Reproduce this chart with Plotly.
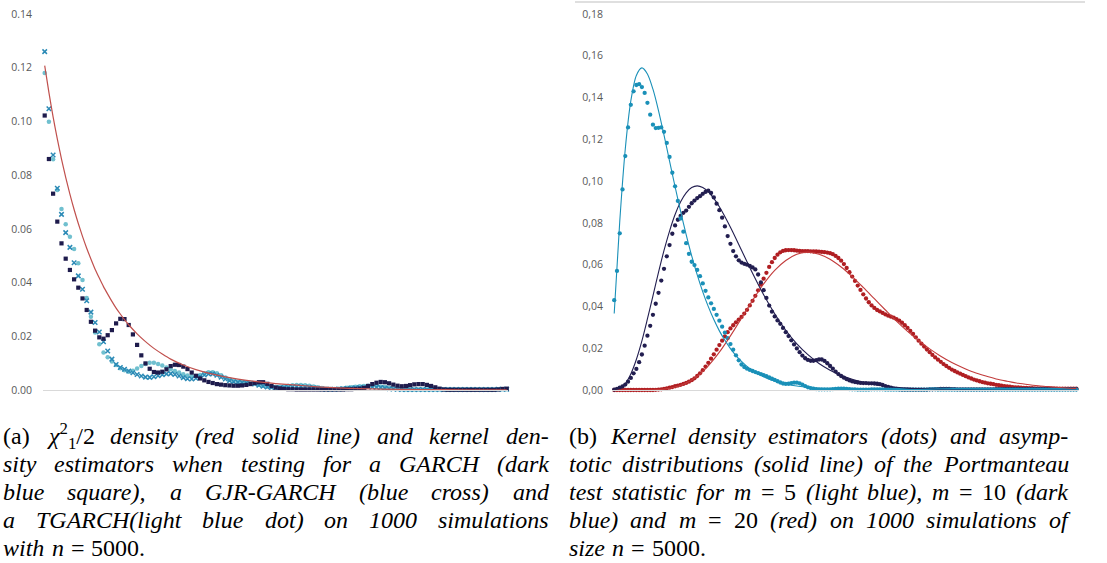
import plotly.graph_objects as go

W, H = 1107, 563

# ---------------- left panel data (index on a regular grid) ----------------
left_idx = list(range(111))
garch_sq = [0.1022, 0.0860, 0.0731, 0.0627, 0.0546, 0.0489, 0.0447, 0.0412, 0.0381, 0.0341,
            0.0298, 0.0254, 0.0221, 0.0196, 0.0191, 0.0204, 0.0223, 0.0248, 0.0265, 0.0264,
            0.0242, 0.0207, 0.0168, 0.0129, 0.0099, 0.0079, 0.0067, 0.0065, 0.0068, 0.0077,
            0.0089, 0.0094, 0.0093, 0.0087, 0.0078, 0.0065, 0.0053, 0.0043, 0.0036, 0.0030,
            0.0026, 0.0022, 0.0020, 0.0018, 0.0017, 0.0016, 0.0016, 0.0017, 0.0019, 0.0022,
            0.0026, 0.0029, 0.0029, 0.0023, 0.0015, 0.0009, 0.0006, 0.0004, 0.0003, 0.0003,
            0.0002, 0.0002, 0.0002, 0.0002, 0.0002, 0.0002, 0.0002, 0.0002, 0.0002, 0.0002,
            0.0002, 0.0002, 0.0003, 0.0003, 0.0004, 0.0005, 0.0008, 0.0015, 0.0022, 0.0027,
            0.0030, 0.0029, 0.0025, 0.0020, 0.0016, 0.0014, 0.0015, 0.0018, 0.0021, 0.0022,
            0.0022, 0.0019, 0.0015, 0.0010, 0.0005, 0.0002, 0.0001, 0.0001, 0.0001, 0.0001,
            0.0001, 0.0001, 0.0001, 0.0001, 0.0001, 0.0001, 0.0001, 0.0001, 0.0002, 0.0004,
            0.0005]
gjr_cross = [0.1260, 0.1047, 0.0875, 0.0751, 0.0654, 0.0586, 0.0531, 0.0474, 0.0425, 0.0375,
             0.0332, 0.0290, 0.0251, 0.0216, 0.0180, 0.0145, 0.0115, 0.0095, 0.0084, 0.0077,
             0.0071, 0.0064, 0.0058, 0.0052, 0.0048, 0.0047, 0.0049, 0.0053, 0.0057, 0.0060,
             0.0061, 0.0058, 0.0052, 0.0046, 0.0042, 0.0041, 0.0044, 0.0050, 0.0056, 0.0060,
             0.0060, 0.0055, 0.0048, 0.0041, 0.0035, 0.0031, 0.0029, 0.0028, 0.0027, 0.0025,
             0.0022, 0.0018, 0.0014, 0.0011, 0.0009, 0.0008, 0.0008, 0.0009, 0.0010, 0.0011,
             0.0012, 0.0012, 0.0011, 0.0010, 0.0008, 0.0006, 0.0004, 0.0003, 0.0003, 0.0003,
             0.0004, 0.0005, 0.0006, 0.0007, 0.0008, 0.0009, 0.0010, 0.0011, 0.0011, 0.0010,
             0.0009, 0.0007, 0.0005, 0.0004, 0.0003, 0.0002, 0.0002, 0.0002, 0.0002, 0.0002,
             0.0002, 0.0002, 0.0002, 0.0002, 0.0002, 0.0002, 0.0002, 0.0002, 0.0002, 0.0002,
             0.0002, 0.0002, 0.0002, 0.0002, 0.0002, 0.0002, 0.0002, 0.0002, 0.0003, 0.0003,
             0.0003]
tgarch_dot = [0.1180, 0.0999, 0.0859, 0.0745, 0.0674, 0.0617, 0.0571, 0.0525, 0.0472, 0.0410,
              0.0343, 0.0273, 0.0214, 0.0170, 0.0140, 0.0122, 0.0106, 0.0093, 0.0081, 0.0074,
              0.0068, 0.0072, 0.0080, 0.0089, 0.0097, 0.0101, 0.0101, 0.0097, 0.0091, 0.0084,
              0.0077, 0.0071, 0.0065, 0.0059, 0.0054, 0.0051, 0.0052, 0.0056, 0.0062, 0.0066,
              0.0066, 0.0062, 0.0055, 0.0047, 0.0040, 0.0035, 0.0032, 0.0030, 0.0029, 0.0027,
              0.0024, 0.0020, 0.0016, 0.0013, 0.0011, 0.0011, 0.0012, 0.0014, 0.0016, 0.0018,
              0.0019, 0.0019, 0.0018, 0.0016, 0.0013, 0.0010, 0.0007, 0.0005, 0.0004, 0.0004,
              0.0005, 0.0006, 0.0008, 0.0010, 0.0012, 0.0014, 0.0015, 0.0016, 0.0016, 0.0015,
              0.0013, 0.0011, 0.0008, 0.0006, 0.0004, 0.0003, 0.0002, 0.0002, 0.0002, 0.0002,
              0.0002, 0.0002, 0.0002, 0.0002, 0.0002, 0.0002, 0.0002, 0.0002, 0.0002, 0.0002,
              0.0002, 0.0002, 0.0002, 0.0002, 0.0002, 0.0002, 0.0002, 0.0002, 0.0003, 0.0003,
              0.0003]
chi_idx = [0, 1, 2, 3, 4, 5, 6, 7, 8, 9, 10, 11, 12, 13, 14, 15, 16, 17, 18, 19, 20,
           22, 24, 26, 28, 30, 33, 36, 40, 45, 50, 55, 60, 65, 70, 75, 80, 90, 100, 110]
chi_half = [0.1208, 0.1108, 0.1017, 0.0935, 0.0860, 0.0792, 0.0729, 0.0672, 0.0620, 0.0572,
            0.0528, 0.0488, 0.0450, 0.0417, 0.0385, 0.0357, 0.0330, 0.0305, 0.0283, 0.0262,
            0.0243, 0.0209, 0.0180, 0.0155, 0.0134, 0.0115, 0.0093, 0.0076, 0.0059, 0.0043,
            0.0032, 0.0024, 0.0018, 0.0012, 0.0008, 0.0005, 0.0003, 0.00015, 0.0001, 0.00005]
left_ticks = [0, 0.02, 0.04, 0.06, 0.08, 0.10, 0.12, 0.14]
left_ticktext = ["0.00", "0.02", "0.04", "0.06", "0.08", "0.10", "0.12", "0.14"]

# ---------------- right panel data (statistic value grid) ----------------
kde_start, kde_step = 0.5, 0.25
kde_m5 = [0.0430, 0.0570, 0.0750, 0.0960, 0.1120, 0.1257, 0.1365, 0.1430,
          0.1460, 0.1464, 0.1450, 0.1422, 0.1375, 0.1318, 0.1270, 0.1254,
          0.1255, 0.1257, 0.1236, 0.1183, 0.1116, 0.1040, 0.0975, 0.0905,
          0.0821, 0.0758, 0.0703, 0.0652, 0.0614, 0.0598, 0.0575, 0.0545,
          0.0510, 0.0475, 0.0443, 0.0415, 0.0388, 0.0360, 0.0332, 0.0303,
          0.0275, 0.0248, 0.0220, 0.0193, 0.0166, 0.0142, 0.0122, 0.0110,
          0.0102, 0.0096, 0.0091, 0.0086, 0.0081, 0.0076, 0.0071, 0.0066,
          0.0060, 0.0054, 0.0048, 0.0042, 0.0036, 0.0031, 0.0029, 0.0030,
          0.0033, 0.0035, 0.0035, 0.0032, 0.0026, 0.0019, 0.0013, 0.0009,
          0.0006, 0.0004, 0.0003, 0.0003, 0.0003, 0.0003, 0.0003, 0.0004,
          0.0005, 0.0006, 0.0006, 0.0006, 0.0005, 0.0004, 0.0003, 0.0003,
          0.0002, 0.0002, 0.0002, 0.0002, 0.0002, 0.0003, 0.0003, 0.0003,
          0.0003, 0.0003, 0.0002, 0.0002, 0.0002, 0.0002, 0.0002, 0.0002,
          0.0002, 0.0002, 0.0002, 0.0002, 0.0002, 0.0002, 0.0002, 0.0002,
          0.0002, 0.0002, 0.0003, 0.0003, 0.0003, 0.0002, 0.0002, 0.0002,
          0.0002, 0.0002, 0.0002, 0.0002, 0.0002, 0.0002, 0.0002, 0.0002,
          0.0002, 0.0002, 0.0002, 0.0002, 0.0002, 0.0002, 0.0002, 0.0002,
          0.0002, 0.0002, 0.0002, 0.0002, 0.0002, 0.0002, 0.0002, 0.0002,
          0.0002, 0.0002, 0.0002, 0.0002, 0.0002, 0.0002, 0.0002, 0.0002,
          0.0002, 0.0002, 0.0002, 0.0002, 0.0002, 0.0002, 0.0002, 0.0002,
          0.0002, 0.0002, 0.0002, 0.0002, 0.0002, 0.0002, 0.0002, 0.0002]
kde_m10 = [0.0002, 0.0005, 0.0011, 0.0017, 0.0026, 0.0040, 0.0058, 0.0080,
           0.0101, 0.0133, 0.0170, 0.0212, 0.0260, 0.0307, 0.0360, 0.0413,
           0.0465, 0.0524, 0.0580, 0.0640, 0.0694, 0.0748, 0.0788, 0.0815,
           0.0833, 0.0848, 0.0859, 0.0877, 0.0894, 0.0907, 0.0919, 0.0928,
           0.0939, 0.0948, 0.0954, 0.0943, 0.0922, 0.0892, 0.0861, 0.0825,
           0.0783, 0.0737, 0.0700, 0.0665, 0.0640, 0.0621, 0.0610, 0.0604,
           0.0600, 0.0594, 0.0587, 0.0577, 0.0553, 0.0515, 0.0478, 0.0441,
           0.0404, 0.0375, 0.0352, 0.0333, 0.0317, 0.0297, 0.0277, 0.0258,
           0.0238, 0.0218, 0.0199, 0.0181, 0.0165, 0.0152, 0.0144, 0.0140,
           0.0140, 0.0143, 0.0146, 0.0146, 0.0139, 0.0128, 0.0115, 0.0102,
           0.0088, 0.0076, 0.0067, 0.0059, 0.0052, 0.0046, 0.0041, 0.0038,
           0.0036, 0.0034, 0.0033, 0.0033, 0.0032, 0.0032, 0.0031, 0.0030,
           0.0028, 0.0024, 0.0019, 0.0015, 0.0011, 0.0007, 0.0005, 0.0003,
           0.0002, 0.0002, 0.0002, 0.0002, 0.0002, 0.0002, 0.0002, 0.0002,
           0.0002, 0.0002, 0.0003, 0.0003, 0.0004, 0.0004, 0.0005, 0.0005,
           0.0005, 0.0005, 0.0004, 0.0004, 0.0003, 0.0003, 0.0003, 0.0003,
           0.0003, 0.0003, 0.0003, 0.0003, 0.0003, 0.0003, 0.0003, 0.0003,
           0.0003, 0.0003, 0.0004, 0.0004, 0.0004, 0.0004, 0.0004, 0.0004,
           0.0004, 0.0004, 0.0004, 0.0004, 0.0004, 0.0004, 0.0004, 0.0004,
           0.0004, 0.0004, 0.0004, 0.0004, 0.0004, 0.0004, 0.0004, 0.0004,
           0.0004, 0.0004, 0.0004, 0.0004, 0.0004, 0.0004, 0.0004, 0.0004]
kde_m20 = [0.0000, 0.0000, 0.0000, 0.0000, 0.0000, 0.0000, 0.0000, 0.0000,
           0.0000, 0.0000, 0.0000, 0.0000, 0.0000, 0.0000, 0.0000, 0.0001,
           0.0002, 0.0003, 0.0005, 0.0008, 0.0011, 0.0014, 0.0018, 0.0021,
           0.0025, 0.0029, 0.0034, 0.0040, 0.0047, 0.0056, 0.0067, 0.0080,
           0.0095, 0.0112, 0.0130, 0.0150, 0.0171, 0.0193, 0.0215, 0.0236,
           0.0257, 0.0277, 0.0295, 0.0310, 0.0324, 0.0337, 0.0350, 0.0366,
           0.0384, 0.0405, 0.0427, 0.0451, 0.0477, 0.0505, 0.0533, 0.0561,
           0.0589, 0.0612, 0.0632, 0.0648, 0.0659, 0.0666, 0.0669, 0.0670,
           0.0670, 0.0669, 0.0667, 0.0666, 0.0665, 0.0665, 0.0665, 0.0664,
           0.0663, 0.0663, 0.0662, 0.0661, 0.0660, 0.0658, 0.0655, 0.0650,
           0.0642, 0.0632, 0.0619, 0.0603, 0.0584, 0.0564, 0.0543, 0.0522,
           0.0500, 0.0479, 0.0458, 0.0438, 0.0420, 0.0405, 0.0393, 0.0383,
           0.0376, 0.0369, 0.0362, 0.0356, 0.0351, 0.0346, 0.0339, 0.0332,
           0.0322, 0.0310, 0.0297, 0.0283, 0.0268, 0.0252, 0.0236, 0.0222,
           0.0208, 0.0194, 0.0181, 0.0168, 0.0156, 0.0145, 0.0135, 0.0124,
           0.0115, 0.0106, 0.0098, 0.0091, 0.0084, 0.0078, 0.0072, 0.0066,
           0.0060, 0.0055, 0.0050, 0.0046, 0.0042, 0.0038, 0.0035, 0.0032,
           0.0030, 0.0028, 0.0025, 0.0023, 0.0021, 0.0019, 0.0017, 0.0016,
           0.0014, 0.0013, 0.0012, 0.0011, 0.0010, 0.0010, 0.0009, 0.0009,
           0.0008, 0.0008, 0.0008, 0.0008, 0.0007, 0.0007, 0.0007, 0.0007,
           0.0007, 0.0007, 0.0007, 0.0007, 0.0007, 0.0007, 0.0007, 0.0007]

line_m5_x = [0.5, 1, 1.5, 2, 2.5, 3, 3.5, 4, 4.5, 5, 5.5, 6, 6.5, 7, 7.5, 8, 8.5, 9, 9.5, 10,
             10.5, 11, 11.5, 12, 12.5, 13, 13.5, 14, 14.5, 15, 16, 17, 18, 19, 20, 22, 25, 30, 35, 42.25]
line_m5 = [0.0366, 0.0807, 0.1154, 0.1384, 0.1506, 0.1542, 0.1513, 0.1440, 0.1338, 0.1220,
           0.1096, 0.0973, 0.0855, 0.0744, 0.0642, 0.0551, 0.0470, 0.0399, 0.0337, 0.0283,
           0.0238, 0.0198, 0.0165, 0.0137, 0.0113, 0.0094, 0.0077, 0.0064, 0.0052, 0.0043,
           0.0029, 0.0019, 0.0013, 0.0008, 0.0005, 0.0002, 0.0001, 0.0000, 0.0000, 0.0000]
line_m10_x = [0.5, 1, 1.5, 2, 2.5, 3, 3.5, 4, 4.5, 5, 5.5, 6, 6.5, 7, 7.5, 8, 8.5, 9, 9.5, 10,
              11, 12, 13, 14, 15, 16, 17, 18, 19, 20, 21, 22, 23, 24, 25, 26, 27, 28, 29, 30,
              32, 35, 38, 42.25]
line_m10 = [0.0001, 0.0008, 0.0031, 0.0077, 0.0146, 0.0235, 0.0340, 0.0451, 0.0563, 0.0668,
            0.0761, 0.0840, 0.0901, 0.0944, 0.0969, 0.0977, 0.0969, 0.0949, 0.0917, 0.0877,
            0.0779, 0.0669, 0.0559, 0.0456, 0.0365, 0.0286, 0.0221, 0.0169, 0.0127, 0.0095,
            0.0070, 0.0051, 0.0037, 0.0027, 0.0019, 0.0013, 0.0009, 0.0007, 0.0005, 0.0003,
            0.0002, 0.0000, 0.0000, 0.0000]
line_m20_x = [0.5, 1, 2, 3, 4, 5, 6, 7, 8, 9, 10, 11, 12, 13, 14, 15, 16, 17, 18, 19, 20,
              21, 22, 23, 24, 25, 26, 27, 28, 29, 30, 31, 32, 33, 34, 35, 36, 37, 38, 39, 40,
              41, 42, 42.25]
line_m20 = [0.0000, 0.0000, 0.0000, 0.0000, 0.0001, 0.0004, 0.0014, 0.0033, 0.0066, 0.0116,
            0.0181, 0.0259, 0.0344, 0.0429, 0.0508, 0.0573, 0.0620, 0.0650, 0.0660, 0.0650,
            0.0626, 0.0589, 0.0543, 0.0491, 0.0437, 0.0383, 0.0330, 0.0281, 0.0237, 0.0197,
            0.0162, 0.0132, 0.0107, 0.0085, 0.0068, 0.0053, 0.0042, 0.0032, 0.0025, 0.0019,
            0.0015, 0.0011, 0.0008, 0.0008]
right_ticks = [0, 0.02, 0.04, 0.06, 0.08, 0.10, 0.12, 0.14, 0.16, 0.18]
right_ticktext = ["0,00", "0,02", "0,04", "0,06", "0,08", "0,10", "0,12", "0,14", "0,16", "0,18"]


def grid(vals):
    return [kde_start + kde_step * k for k in range(len(vals))]


# colours
C_SQ, C_CR, C_DOT, C_RED = "#1e1b4c", "#2b8ab6", "#70c0cf", "#c0504d"
C_LB, C_DB, C_RD, C_RDL = "#1a90b8", "#221e50", "#b01e22", "#c23b3b"

fig = go.Figure()
# left panel
fig.add_trace(go.Scatter(x=left_idx, y=tgarch_dot, mode="markers", xaxis="x", yaxis="y",
                         marker=dict(symbol="circle", size=4.5, color=C_DOT), cliponaxis=False))
fig.add_trace(go.Scatter(x=left_idx, y=gjr_cross, mode="markers", xaxis="x", yaxis="y",
                         marker=dict(symbol="x-thin", size=4.5, line=dict(color=C_CR, width=1.5)),
                         cliponaxis=False))
fig.add_trace(go.Scatter(x=left_idx, y=garch_sq, mode="markers", xaxis="x", yaxis="y",
                         marker=dict(symbol="square", size=4.2, color=C_SQ), cliponaxis=False))
fig.add_trace(go.Scatter(x=chi_idx, y=chi_half, mode="lines", xaxis="x", yaxis="y",
                         line=dict(color=C_RED, width=1.2, shape="spline", smoothing=0.6),
                         cliponaxis=False))
# right panel
for vals, col in [(kde_m20, C_RD), (kde_m10, C_DB), (kde_m5, C_LB)]:
    fig.add_trace(go.Scatter(x=grid(vals), y=vals, mode="markers", xaxis="x2", yaxis="y2",
                             marker=dict(symbol="circle", size=4.3, color=col), cliponaxis=False))
for xs, ys, col in [(line_m20_x, line_m20, C_RDL), (line_m10_x, line_m10, C_DB),
                    (line_m5_x, line_m5, C_LB)]:
    fig.add_trace(go.Scatter(x=xs, y=ys, mode="lines", xaxis="x2", yaxis="y2",
                             line=dict(color=col, width=1.1, shape="spline", smoothing=0.8),
                             cliponaxis=False))

ydom = [(H - 390) / H, (H - 14) / H]
tickfont = dict(family="Open Sans", size=10.5, color="#595959")
fig.update_layout(
    template="none",
    width=W, height=H, margin=dict(l=0, r=0, t=0, b=0, pad=0, autoexpand=False), autosize=False,
    paper_bgcolor="white", plot_bgcolor="white", showlegend=False, hovermode=False,
    xaxis=dict(domain=[43 / W, 508 / W], range=[-0.405, 110.31], showline=True,
               linecolor="#d9d9d9", linewidth=1, showticklabels=False, showgrid=False,
               zeroline=False, ticks="", automargin=False),
    yaxis=dict(domain=ydom, range=[0, 0.14], tickvals=left_ticks, ticktext=left_ticktext,
               showgrid=False, zeroline=False, showline=False, ticks="", automargin=False,
               tickfont=tickfont, ticklabelstandoff=10),
    xaxis2=dict(domain=[612 / W, 1078 / W], range=[0.3, 42.4], anchor="y2", showline=True,
                linecolor="#d9d9d9", linewidth=1, showticklabels=False, showgrid=False,
                zeroline=False, ticks="", automargin=False),
    yaxis2=dict(domain=ydom, range=[0, 0.18], anchor="x2", tickvals=right_ticks,
                ticktext=right_ticktext, showgrid=False, zeroline=False, showline=False,
                ticks="", tickfont=tickfont, ticklabelstandoff=8, automargin=False),
)
fig.add_shape(type="line", xref="paper", yref="paper", x0=575 / W, x1=1085 / W,
              y0=1 - 2 / H, y1=1 - 2 / H, line=dict(color="#bfbfbf", width=1))

# ---------------- captions (justified, word by word) ----------------
W_IT = dict(zip("abcdefghijklmnopqrstuvwxyz",
                [.5, .5, .444, .5, .444, .278, .5, .5, .278, .278, .444, .278, .722, .5, .5, .5, .5,
                 .389, .389, .278, .5, .444, .667, .444, .444, .389]))
W_IT.update(dict(zip("ABCDEFGHIJKLMNOPQRSTUVWXYZ",
                     [.611, .611, .667, .722, .611, .611, .722, .722, .333, .444, .667, .556, .833,
                      .667, .722, .611, .722, .611, .5, .556, .722, .611, .833, .611, .556, .556])))
W_IT.update({"(": .333, ")": .333, ",": .25, ".": .25, "-": .333, "/": .278, "=": .675})
for d in "0123456789":
    W_IT[d] = .5
W_UP = dict(W_IT)
W_UP.update({"a": .444, "b": .5, "=": .564})

CAP_SIZE = 24
CAP_FONT = "Liberation Serif"


def token(t):
    if t == "CHI":
        return "<i>χ</i><sup>2</sup><sub>1</sub>/2", 1.95
    if t.startswith("^"):
        s = t[1:]
        return s, sum(W_UP.get(c, .5) for c in s)
    return "<i>" + t + "</i>", sum(W_IT.get(c, .5) for c in t)


def place(lines, x0, x1, ys):
    for k, (words, y) in enumerate(zip(lines, ys)):
        toks = [token(w) for w in words]
        widths = [w * CAP_SIZE for _, w in toks]
        justify = k < len(lines) - 1
        gap = (x1 - x0 - sum(widths)) / (len(toks) - 1) if justify else 0.3 * CAP_SIZE
        x = x0
        for (html, _), w in zip(toks, widths):
            fig.add_annotation(x=x / W, y=1 - y / H, xref="paper", yref="paper", text=html,
                               showarrow=False, xanchor="left", yanchor="middle",
                               font=dict(family=CAP_FONT, size=CAP_SIZE, color="black"),
                               borderpad=0)
            x += w + gap


cap_a = [["^(a)", "CHI", "density", "(red", "solid", "line)", "and", "kernel", "den-"],
         ["sity", "estimators", "when", "testing", "for", "a", "GARCH", "(dark"],
         ["blue", "square),", "a", "GJR-GARCH", "(blue", "cross)", "and"],
         ["a", "TGARCH(light", "blue", "dot)", "on", "1000", "simulations"],
         ["with", "n", "^=", "^5000."]]
cap_b = [["^(b)", "Kernel", "density", "estimators", "(dots)", "and", "asymp-"],
         ["totic", "distributions", "(solid", "line)", "of", "the", "Portmanteau"],
         ["test", "statistic", "for", "m", "^=", "^5", "(light", "blue),", "m", "^=", "^10", "(dark"],
         ["blue)", "and", "m", "^=", "^20", "(red)", "on", "1000", "simulations", "of"],
         ["size", "n", "^=", "^5000."]]
cap_y = [436, 464, 492, 520, 548]
place(cap_a, 2, 548, cap_y)
place(cap_b, 568, 1067, cap_y)

fig.write_html("out.html", config={"responsive": False, "displayModeBar": False},
               post_script="document.body.style.margin='0px';document.body.style.padding='0px';")
